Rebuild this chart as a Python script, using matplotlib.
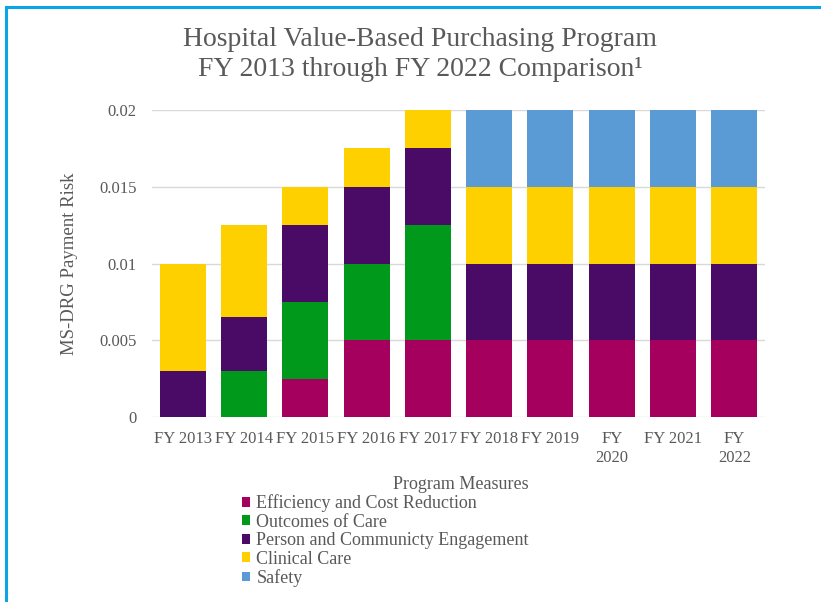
import matplotlib
matplotlib.use("Agg")
import matplotlib.pyplot as plt
from matplotlib.patches import Rectangle
import numpy as np

plt.rcParams['font.family'] = ['Liberation Serif', 'DejaVu Serif']

years = ["FY 2013", "FY 2014", "FY 2015", "FY 2016", "FY 2017",
         "FY 2018", "FY 2019", "FY\n2020", "FY 2021", "FY\n2022"]
efficiency = [0, 0, 0.0025, 0.005, 0.005, 0.005, 0.005, 0.005, 0.005, 0.005]
outcomes = [0, 0.003, 0.005, 0.005, 0.0075, 0, 0, 0, 0, 0]
engagement = [0.003, 0.0035, 0.005, 0.005, 0.005, 0.005, 0.005, 0.005, 0.005, 0.005]
clinical = [0.007, 0.006, 0.0025, 0.0025, 0.0025, 0.005, 0.005, 0.005, 0.005, 0.005]
safety = [0, 0, 0, 0, 0, 0.005, 0.005, 0.005, 0.005, 0.005]

series = [
    ("Efficiency and Cost Reduction", efficiency, "#A6005E"),
    ("Outcomes of Care", outcomes, "#00991C"),
    ("Person and Communicty Engagement", engagement, "#4A0B66"),
    ("Clinical Care", clinical, "#FFD000"),
    ("Safety", safety, "#5B9BD5"),
]

TXT = "#595959"

fig = plt.figure(figsize=(8.21, 6.02), dpi=100)
ax = fig.add_axes([152/821, 1-417/602, (765-152)/821, (417-110)/602])

x = np.arange(len(years))
bottom = np.zeros(len(years))
handles = []
for name, vals, col in series:
    v = np.array(vals)
    b = ax.bar(x, v, width=0.75, bottom=bottom, color=col, label=name, zorder=3)
    handles.append(b)
    bottom += v

ax.set_xlim(-0.5, len(years) - 0.5)
ax.set_ylim(0, 0.02)
ax.set_yticks([0, 0.005, 0.01, 0.015, 0.02])
ax.set_yticklabels(["0", "0.005", "0.01", "0.015", "0.02"])
ax.set_xticks(x)
ax.set_xticklabels(years, linespacing=1.3)
ax.tick_params(axis='both', length=0, colors=TXT, labelsize=12)
ax.tick_params(axis='y', pad=11)
ax.tick_params(axis='x', pad=10)
for s in ax.spines.values():
    s.set_visible(False)
ax.grid(axis='y', color="#D9D9D9", linewidth=1, zorder=0)
ax.set_ylabel("MS-DRG Payment Risk", color=TXT, fontsize=13.5)
ax.yaxis.set_label_coords((78 - 152) / 613, 0.5)

fig.text(420/821, 1-40/602, "Hospital Value-Based Purchasing Program",
         ha='center', va='center', fontsize=20, color=TXT)
fig.text(420/821, 1-70/602, "FY 2013 through FY 2022 Comparison\u00b9",
         ha='center', va='center', fontsize=20, color=TXT)

leg = fig.legend(handles=handles, labels=[s[0] for s in series],
                 loc='upper left', bbox_to_anchor=(242/821, 1-476/602),
                 frameon=False, title="Program Measures", alignment='right',
                 fontsize=13, title_fontsize=13, handlelength=0.45,
                 handleheight=0.45, handletextpad=0.35, labelspacing=0.08,
                 borderpad=0, borderaxespad=0)
for t in leg.get_texts():
    t.set_color(TXT)
leg.get_title().set_color(TXT)

fig.patches.append(Rectangle((6/821, -0.1), 1.2, 1 - 7/602 + 0.1,
                             transform=fig.transFigure, fill=False,
                             edgecolor="#0AA5E6", linewidth=2.2))

fig.savefig("out.png", dpi=100)
